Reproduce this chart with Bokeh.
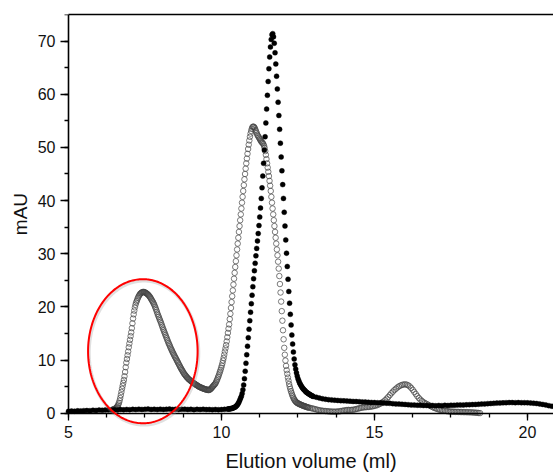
import numpy as np
from bokeh.plotting import figure
from bokeh.models import Range1d, LinearAxis, SingleIntervalTicker, FixedTicker, PolyAnnotation
from bokeh.embed import file_html
from bokeh.resources import INLINE

# ---------------- data ----------------
# filled series: three sampled segments (start ml, step ml, mAU values)
black_a_start, black_a_step = 5.0, 0.1
black_a = [0.35, 0.4, 0.38, 0.45, 0.42, 0.48, 0.5, 0.47, 0.55, 0.52,
           0.58, 0.55, 0.6, 0.62, 0.58, 0.65, 0.6, 0.68, 0.63, 0.7,
           0.66, 0.72, 0.68, 0.75, 0.7, 0.72, 0.78, 0.7, 0.74, 0.68,
           0.76, 0.7, 0.73, 0.78, 0.7, 0.74, 0.68, 0.72, 0.76, 0.7,
           0.73, 0.67, 0.72, 0.69, 0.74, 0.68, 0.7, 0.65, 0.7, 0.66,
           0.68, 0.72, 0.78]
black_b_start, black_b_step = 10.225, 0.025
black_b = [0.78, 0.8, 0.82, 0.85, 0.88, 0.92, 0.97, 1.03, 1.1, 1.18,
           1.3, 1.45, 1.62, 1.85, 2.15, 2.5, 2.85, 3.2, 3.7, 4.4,
           5.3, 6.5, 7.9, 9.4, 11.0, 12.6, 14.2, 15.8, 17.4, 19.0,
           20.6, 22.2, 23.8, 25.3, 26.8, 28.2, 29.6, 31.0, 32.4, 33.8,
           35.3, 36.9, 38.6, 40.4, 42.4, 44.6, 47.0, 49.5, 52.0, 54.6,
           57.2, 59.8, 62.4, 64.8, 67.0, 68.9, 70.3, 71.2, 71.4, 70.8,
           69.6, 67.8, 65.7, 63.4, 61.0, 58.5, 56.0, 53.4, 50.8, 48.2,
           45.6, 43.0, 40.4, 37.8, 35.2, 32.6, 30.1, 27.6, 25.2, 22.9,
           20.7, 18.6, 16.6, 14.7, 13.0, 11.5, 10.2, 9.1, 8.3, 7.6,
           7.0, 6.5, 6.1, 5.75, 5.45, 5.2, 4.95, 4.75, 4.55, 4.4,
           4.25, 4.1, 3.95, 3.85, 3.75, 3.65, 3.55, 3.45, 3.38, 3.3,
           3.22, 3.15]
black_c_start, black_c_step = 13.1, 0.1
black_c = [3.0, 2.85, 2.72, 2.62, 2.55, 2.5, 2.45, 2.4, 2.36, 2.32,
           2.3, 2.26, 2.22, 2.2, 2.17, 2.12, 2.1, 2.05, 2.02, 2.0,
           1.97, 1.95, 1.9, 1.88, 1.85, 1.8, 1.75, 1.72, 1.68, 1.65,
           1.6, 1.55, 1.52, 1.5, 1.48, 1.45, 1.45, 1.42, 1.45, 1.4,
           1.45, 1.42, 1.48, 1.45, 1.5, 1.48, 1.52, 1.55, 1.52, 1.58,
           1.6, 1.62, 1.65, 1.68, 1.72, 1.75, 1.8, 1.82, 1.85, 1.9,
           1.92, 1.95, 1.98, 2.0, 2.0, 1.98, 2.0, 1.97, 1.98, 1.95,
           1.92, 1.88, 1.82, 1.75, 1.65, 1.55, 1.42, 1.3]

# open-circle series: two sampled segments
open_a_start, open_a_step = 6.45, 0.02
open_a = [0.7, 0.72, 0.76, 0.8, 0.88, 0.98, 1.08, 1.22, 1.4, 1.65,
          1.95, 2.35, 2.85, 3.4, 4.0, 4.6, 5.15, 5.7, 6.25, 6.95,
          7.75, 8.65, 9.5, 10.2, 10.9, 11.6, 12.4, 13.1, 13.8, 14.5,
          15.2, 16.0, 16.9, 17.8, 18.6, 19.3, 19.9, 20.4, 20.8, 21.1,
          21.4, 21.7, 21.95, 22.15, 22.35, 22.5, 22.6, 22.7, 22.75, 22.8,
          22.8, 22.8, 22.75, 22.7, 22.6, 22.55, 22.45, 22.35, 22.25, 22.1,
          21.95, 21.8, 21.6, 21.4, 21.2, 21.0, 20.8, 20.55, 20.3, 20.0,
          19.7, 19.4, 19.05, 18.7, 18.4, 18.1, 17.8, 17.5, 17.2, 16.9,
          16.55, 16.25, 15.9, 15.6, 15.3, 15.0, 14.7, 14.4, 14.1, 13.8,
          13.5, 13.2, 12.95, 12.7, 12.4, 12.15, 11.9, 11.65, 11.4, 11.2,
          10.95, 10.7, 10.5, 10.3, 10.05, 9.85, 9.6, 9.4, 9.15, 8.95,
          8.7, 8.5, 8.3, 8.1, 7.9, 7.7, 7.5, 7.35, 7.2, 7.05,
          6.9, 6.75, 6.65, 6.5, 6.4, 6.3, 6.2, 6.1, 6.0, 5.9,
          5.82, 5.74, 5.65, 5.57, 5.5, 5.42, 5.35, 5.28, 5.2, 5.12,
          5.05, 4.98, 4.92, 4.87, 4.82, 4.77, 4.72, 4.67, 4.62, 4.58,
          4.54, 4.5, 4.47, 4.44, 4.41, 4.38, 4.36, 4.36, 4.4, 4.48,
          4.58, 4.7, 4.84, 4.98, 5.12, 5.25, 5.38, 5.5, 5.7, 5.95,
          6.2, 6.5, 6.8, 7.1, 7.45, 7.8, 8.15, 8.55, 8.95, 9.4,
          9.9, 10.4, 11.0, 11.6, 12.2, 12.8, 13.5, 14.3, 15.1, 15.9,
          16.7, 17.7, 18.7, 19.8, 20.9, 22.0, 23.1, 24.2, 25.3, 26.4,
          27.5, 28.6, 29.7, 30.8, 31.9, 33.0, 34.1, 35.2, 36.3, 37.4,
          38.5, 39.6, 40.7, 41.8, 42.9, 44.0, 45.0, 46.0, 47.0, 47.9,
          48.8, 49.7, 50.5, 51.3, 52.0, 52.6, 53.1, 53.5, 53.8, 53.9,
          53.9, 53.8, 53.6, 53.3, 53.0, 52.7, 52.4, 52.2, 52.0, 51.8,
          51.6, 51.4, 51.2, 51.0, 50.9, 50.8, 50.6, 50.3, 49.9, 49.3,
          48.6, 47.8, 47.0, 46.2, 45.4, 44.6, 43.7, 42.8, 41.8, 40.7,
          39.6, 38.5, 37.4, 36.3, 35.2, 34.1, 33.0, 31.9, 30.8, 29.7,
          28.5, 27.2, 25.8, 24.3, 22.7, 21.0, 19.2, 17.4, 15.6, 13.9,
          12.3, 11.0, 9.9, 8.9, 8.1, 7.4, 6.7, 6.1, 5.5, 5.0,
          4.55, 4.15, 3.8, 3.45, 3.15, 2.9, 2.65, 2.45, 2.3, 2.15,
          2.05, 1.95, 1.88, 1.82, 1.76, 1.7, 1.65, 1.6, 1.55, 1.5,
          1.45, 1.4, 1.36, 1.32, 1.28, 1.24, 1.2, 1.16, 1.12, 1.08,
          1.04]
open_b_start, open_b_step = 12.9, 0.05
open_b = [1.0, 0.92, 0.85, 0.78, 0.7, 0.62, 0.56, 0.5, 0.46, 0.42,
          0.4, 0.38, 0.35, 0.32, 0.3, 0.3, 0.28, 0.3, 0.32, 0.35,
          0.4, 0.45, 0.5, 0.55, 0.6, 0.62, 0.6, 0.62, 0.65, 0.7,
          0.78, 0.85, 0.92, 1.0, 1.05, 1.1, 1.12, 1.15, 1.18, 1.2,
          1.25, 1.3, 1.38, 1.45, 1.55, 1.68, 1.82, 2.0, 2.2, 2.45,
          2.75, 3.05, 3.4, 3.75, 4.05, 4.35, 4.6, 4.85, 5.05, 5.2,
          5.32, 5.4, 5.42, 5.38, 5.25, 5.05, 4.75, 4.4, 4.0, 3.6,
          3.2, 2.85, 2.55, 2.3, 2.08, 1.9, 1.75, 1.6, 1.45, 1.3,
          1.15, 1.0, 0.9, 0.8, 0.7, 0.62, 0.55, 0.5, 0.45, 0.4,
          0.36, 0.32, 0.3, 0.28, 0.26, 0.25, 0.25, 0.24, 0.22, 0.22,
          0.2, 0.2, 0.2, 0.18, 0.18, 0.16, 0.15, 0.12, 0.1, 0.08,
          0.05, 0.02]

x_ticks_interval = 5
y_ticks_interval = 10
x_label = "Elution volume (ml)"
y_label = "mAU"

# highlight ellipse (centre and full size in data units)
ellipse_cx, ellipse_cy = 7.43, 11.66
ellipse_w, ellipse_h = 3.58, 27.1


def seg(start, step, vals):
    return start + step * np.arange(len(vals))


bx = np.concatenate([seg(black_a_start, black_a_step, black_a),
                     seg(black_b_start, black_b_step, black_b),
                     seg(black_c_start, black_c_step, black_c)])
by = np.concatenate([black_a, black_b, black_c])
ox = np.concatenate([seg(open_a_start, open_a_step, open_a),
                     seg(open_b_start, open_b_step, open_b)])
oy = np.concatenate([open_a, open_b])

FONT = "Liberation Sans"
X_MIN, X_MAX, Y_MIN, Y_MAX = 5.0, 20.85, 0, 75

# The frame covers the whole window: both axes are pinned (x axis at y=0, y axis at
# x=5) so that the red ring can dip under the axis line and the "5" is not clipped.
p = figure(width=553, height=544, x_range=Range1d(2.778, X_MAX), y_range=Range1d(-12.66, Y_MAX),
           output_backend="svg", toolbar_location=None,
           min_border_left=0, min_border_right=0, min_border_top=14, min_border_bottom=64)
p.outline_line_color = None
p.grid.visible = False
p.background_fill_color = "white"
p.border_fill_color = "white"

xa = p.xaxis[0]
xa.ticker = SingleIntervalTicker(interval=x_ticks_interval, num_minor_ticks=4)
xa.fixed_location = Y_MIN
xa.bounds = (X_MIN, X_MAX)
ya = p.yaxis[0]
ya.ticker = SingleIntervalTicker(interval=y_ticks_interval, num_minor_ticks=2)
ya.fixed_location = X_MIN
ya.bounds = (Y_MIN, Y_MAX)
for ax in (xa, ya):
    ax.axis_line_width = 1.6
    ax.axis_line_color = "black"
    ax.major_tick_line_width = 1.3
    ax.minor_tick_line_width = 1.3
    ax.major_tick_in = 0
    ax.minor_tick_in = 0
    ax.major_label_text_font = FONT
    ax.major_label_text_font_size = "16px"
    ax.major_label_text_color = "#111111"
    ax.axis_label_text_font = FONT
    ax.axis_label_text_font_style = "normal"
    ax.axis_label_text_color = "#111111"
xa.major_tick_out = 7
xa.minor_tick_out = 4
xa.major_label_standoff = 6
xa.axis_label = x_label
xa.axis_label_text_font_size = "20px"
xa.axis_label_standoff = 8
ya.major_tick_out = 8
ya.minor_tick_out = 4
ya.major_label_standoff = 5
ya.axis_label = y_label
ya.axis_label_text_font_size = "19px"
ya.axis_label_standoff = 4

top = LinearAxis(ticker=FixedTicker(ticks=[]), axis_line_width=1.6, axis_line_color="black",
                 major_tick_out=0, minor_tick_out=0, major_tick_in=0, minor_tick_in=0,
                 bounds=(X_MIN, X_MAX))
p.add_layout(top, "above")

p.scatter(ox, oy, marker="circle", size=5.5, fill_color=None, line_color="#444444",
          line_width=0.7)
p.scatter(bx, by, marker="circle", size=5, fill_color="black", line_color="black",
          line_width=0.4)

t = np.linspace(0, 2 * np.pi, 240)
ex = ellipse_cx + ellipse_w / 2 * np.cos(t)
ey = ellipse_cy + ellipse_h / 2 * np.sin(t)
shadow = PolyAnnotation(xs=list(ex + 0.03), ys=list(ey - 0.3), fill_alpha=0,
                        line_color="#999999", line_alpha=0.3, line_width=3.5)
ring = PolyAnnotation(xs=list(ex), ys=list(ey), fill_alpha=0, line_color="#ff0000",
                      line_alpha=1.0, line_width=2)
p.add_layout(shadow)
p.add_layout(ring)

open("out.html", "w").write(file_html(p, INLINE))
